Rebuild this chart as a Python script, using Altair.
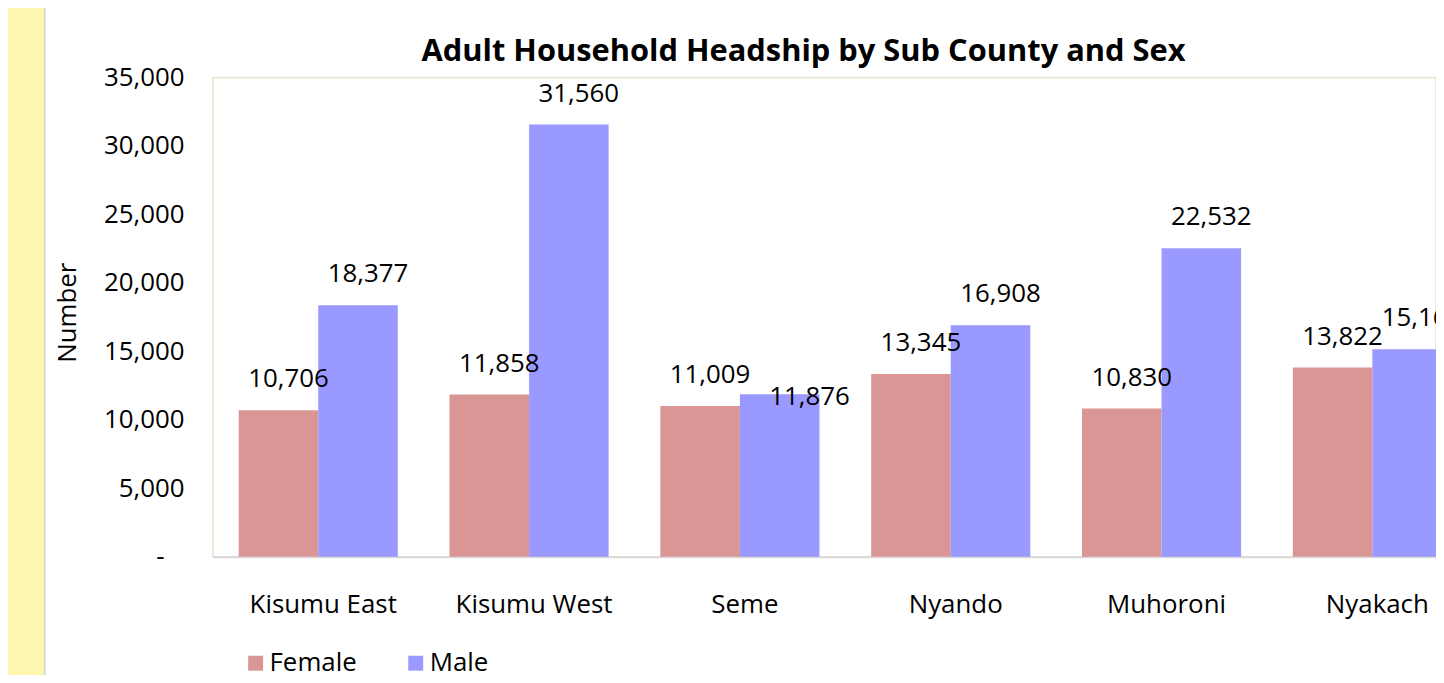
import altair as alt
import pandas as pd

sub_counties = ["Kisumu East", "Kisumu West", "Seme", "Nyando", "Muhoroni", "Nyakach"]
female = [10706, 11858, 11009, 13345, 10830, 13822]
male = [18377, 31560, 11876, 16908, 22532, 15163]
sexes = ["Female", "Male"]
colors = ["#D99694", "#9999FF"]
y_ticks = [0, 5000, 10000, 15000, 20000, 25000, 30000, 35000]
title_text = "Adult Household Headship by Sub County and Sex"

rows = []
for i, sc in enumerate(sub_counties):
    rows.append({"Sub County": sc, "Sex": "Female", "Number": female[i]})
    rows.append({"Sub County": sc, "Sex": "Male", "Number": male[i]})
df = pd.DataFrame(rows)

FONT = "Open Sans"
FS = 26
W, H = 1272, 482

x_enc = alt.X(
    "Sub County:N",
    sort=sub_counties,
    scale=alt.Scale(paddingInner=0.2453, paddingOuter=0.1226, range=[0, W]),
    axis=alt.Axis(
        title=None, labelAngle=0, ticks=False, tickSize=0,
        domainColor="#D9D9D9", domainWidth=2,
        labelFontSize=FS, labelFont=FONT, labelColor="#000000",
        labelPadding=48, labelBaseline="middle", labelOffset=5,
    ),
)
xoff = alt.XOffset("Sex:N", sort=sexes)
y_enc = alt.Y(
    "Number:Q",
    scale=alt.Scale(domain=[0, 35000], nice=False),
    axis=alt.Axis(
        title="Number", values=y_ticks,
        labelExpr="datum.value == 0 ? '-' : format(datum.value, ',')",
        grid=False, domain=False, ticks=False, tickSize=0,
        labelPadding={"condition": {"test": "datum.value == 0", "value": 49}, "value": 29},
        labelFontSize=FS, labelFont=FONT, labelColor="#000000",
        titleFontSize=26, titleFontWeight="normal", titleFont=FONT, titleColor="#000000",
        titleX=-146, titleY=236, titleAngle=-90, titleAlign="center", titleBaseline="middle",
    ),
)
color_enc = alt.Color(
    "Sex:N",
    sort=sexes,
    scale=alt.Scale(domain=sexes, range=colors),
    legend=alt.Legend(
        title=None, orient="none", legendX=30, legendY=576, direction="horizontal",
        symbolType="square", symbolSize=225, symbolStrokeWidth=0,
        labelFontSize=FS, labelFont=FONT, labelColor="#000000",
        columnPadding=46, padding=0, labelOffset=1,
    ),
)

base = alt.Chart(df)

bars = base.mark_bar().encode(x=x_enc, xOffset=xoff, y=y_enc, color=color_enc)

is_special = "datum['Sub County'] == 'Seme' && datum.Sex == 'Male'"

labels = base.transform_filter("!(" + is_special + ")").mark_text(
    font=FONT, fontSize=FS, color="#000000", baseline="middle", dx=10, dy=-31
).encode(x=x_enc, xOffset=xoff, y=y_enc, text=alt.Text("Number:Q", format=","))

labels_special = base.transform_filter(is_special).mark_text(
    font=FONT, fontSize=FS, color="#000000", baseline="middle", dx=30, dy=3
).encode(x=x_enc, xOffset=xoff, y=y_enc, text=alt.Text("Number:Q", format=","))

strip = alt.Chart(alt.Data(values=[{"a": 1}])).mark_rect(
    fill="#FFF7B0", stroke="#D9D9D9", strokeWidth=2
).encode(x=alt.value(-230), x2=alt.value(-169), y=alt.value(-90), y2=alt.value(800))

title = alt.Chart(alt.Data(values=[{"t": title_text}])).mark_text(
    font=FONT, fontSize=31, fontWeight="bold", color="#000000",
    align="center", baseline="middle",
).encode(x=alt.value(594), y=alt.value(-26), text="t:N")

chart = alt.layer(strip, bars, labels, labels_special, title).properties(
    width=W - 42,
    height=H,
    autosize=alt.AutoSizeParams(type="none"),
    padding={"left": 206, "top": 68, "right": 0, "bottom": 117},
    background="#FFFFFF",
).configure_view(stroke="#E8E4CC", strokeWidth=1.5)

chart.save("out.html", embed_options={"renderer": "svg", "actions": False})
